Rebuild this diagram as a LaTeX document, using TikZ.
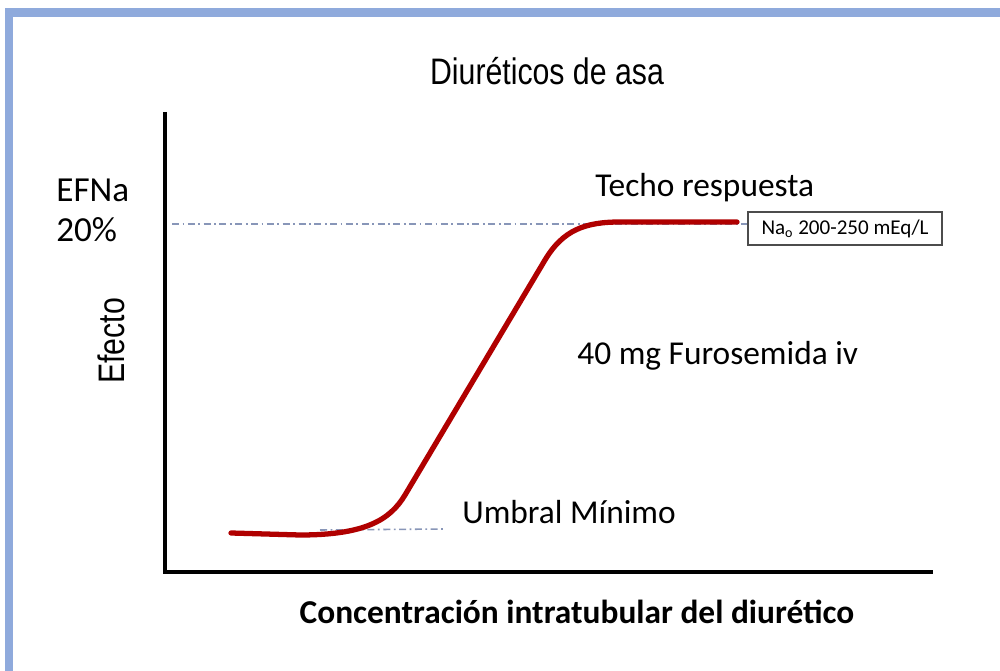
\documentclass[tikz,border=0pt]{standalone}
\usepackage{fontspec}
\setmainfont{Carlito}
\newfontfamily\narrowfont[FakeStretch=0.82]{Liberation Sans}
\definecolor{frameblue}{HTML}{8FAADC}
\definecolor{curvered}{HTML}{B00000}
\definecolor{guide}{HTML}{8896B8}
\begin{document}
\begin{tikzpicture}[x=0.02cm,y=-0.02cm,
  guideline/.style={guide, line width=0.9pt, dash pattern=on 4pt off 2pt on 1pt off 2pt},
  lbl/.style={inner sep=0pt, font=\fontsize{19}{22}\selectfont},
  narrow/.style={inner sep=0pt, font=\narrowfont\fontsize{19}{22}\selectfont}]
\useasboundingbox (0,0) rectangle (1000,671);
\fill[white] (0,0) rectangle (1000,671);
% frame bars
\fill[frameblue] (5,8) rectangle (1000,17);
\fill[frameblue] (5,8) rectangle (13,671);
% title
\node[narrow, font=\narrowfont\fontsize{21}{24}\selectfont] (title) at (547,71) {Diuréticos de asa};
% axes
\coordinate (ytop) at (165,112);
\coordinate (orig) at (165,572);
\coordinate (xend) at (933,572);
\draw[line width=2pt] (ytop) -- (orig) -- (xend);
% guide lines
\coordinate (g1a) at (172,224);
\coordinate (g1b) at (748,224);
\draw[guideline] (g1a) -- (g1b);
\coordinate (g2a) at (320,530);
\coordinate (g2b) at (443,529);
\draw[guideline] (g2a) -- (g2b);
% curve
\coordinate (c0) at (231,533);
\coordinate (c1) at (300,535);
\coordinate (c2) at (405,495);
\coordinate (c3) at (545,260);
\coordinate (c4) at (620,222);
\coordinate (c5) at (737,222);
\draw[curvered, line width=3pt, line cap=round, line join=round]
  (c0) -- (c1) .. controls (365,535) and (390,520) .. (c2) -- (c3)
  .. controls (563,230) and (585,222) .. (c4) -- (c5);
% labels
\node[lbl, anchor=west, font=\fontsize{20}{22}\selectfont] (efna) at (56,190) {EFNa};
\node[lbl, anchor=west, font=\fontsize{20}{22}\selectfont] (pct) at (56,230) {20\%};
\node[narrow, rotate=90, font=\narrowfont\fontsize{21}{24}\selectfont] (efecto) at (111,341) {Efecto};
\node[lbl, anchor=west] (techo) at (595,188) {Techo respuesta};
\node[draw=black!70, line width=0.6pt, minimum width=194*0.02cm, minimum height=33*0.02cm, inner sep=0pt, font=\fontsize{12}{14}\selectfont] (na) at (845,228.5) {Na\textsubscript{o} 200-250 mEq/L};
\node[lbl, anchor=west] (furo) at (577,356) {40 mg Furosemida iv};
\node[lbl, anchor=west] (umbral) at (462,512) {Umbral Mínimo};
\node[lbl, font=\bfseries\fontsize{19}{22}\selectfont] (xlab) at (577,612) {Concentración intratubular del diurético};
\end{tikzpicture}
\end{document}
